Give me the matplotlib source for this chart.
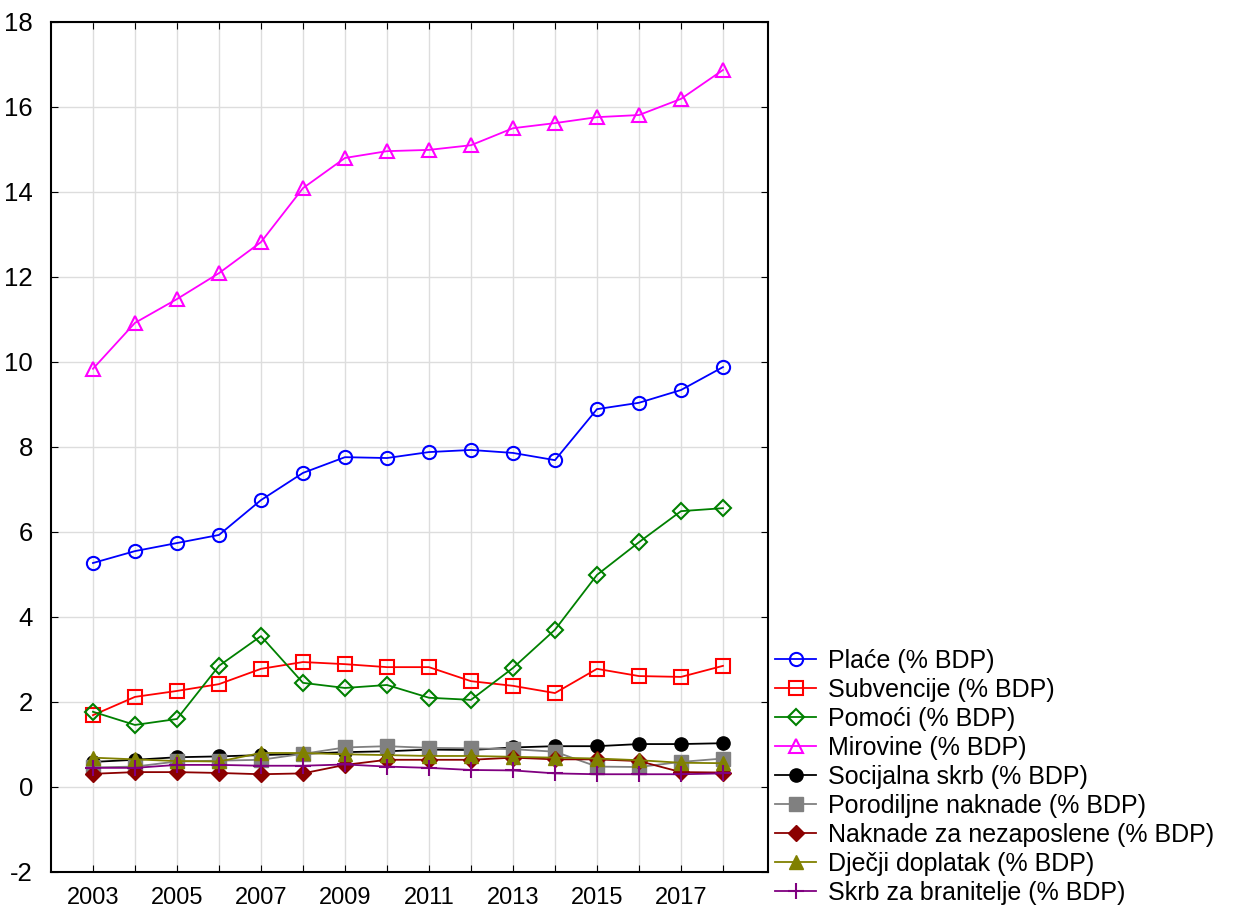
import matplotlib
matplotlib.use('Agg')
import matplotlib.pyplot as plt

years = list(range(2003, 2019))

place = [5.27, 5.55, 5.74, 5.93, 6.75, 7.39, 7.76, 7.74, 7.88, 7.93, 7.86, 7.69, 8.89, 9.04, 9.34, 9.88]
subvencije = [1.69, 2.12, 2.26, 2.42, 2.78, 2.94, 2.89, 2.82, 2.82, 2.49, 2.38, 2.21, 2.78, 2.61, 2.59, 2.85]
pomoci = [1.77, 1.46, 1.60, 2.85, 3.55, 2.45, 2.33, 2.40, 2.10, 2.05, 2.80, 3.70, 4.99, 5.76, 6.49, 6.56]
mirovine = [9.84, 10.92, 11.48, 12.09, 12.82, 14.09, 14.80, 14.96, 14.99, 15.10, 15.50, 15.62, 15.76, 15.81, 16.19, 16.87]
socijalna = [0.59, 0.64, 0.70, 0.72, 0.75, 0.78, 0.82, 0.84, 0.88, 0.87, 0.93, 0.96, 0.96, 1.01, 1.01, 1.03]
porodiljne = [0.46, 0.48, 0.60, 0.62, 0.64, 0.78, 0.93, 0.96, 0.92, 0.91, 0.89, 0.83, 0.48, 0.47, 0.59, 0.67]
nezaposlene = [0.31, 0.35, 0.35, 0.33, 0.30, 0.32, 0.52, 0.64, 0.64, 0.64, 0.69, 0.65, 0.65, 0.61, 0.35, 0.34]
djecji = [0.69, 0.65, 0.61, 0.60, 0.80, 0.80, 0.77, 0.75, 0.73, 0.73, 0.71, 0.69, 0.67, 0.63, 0.57, 0.56]
branitelji = [0.45, 0.45, 0.52, 0.52, 0.50, 0.50, 0.53, 0.48, 0.45, 0.40, 0.39, 0.32, 0.30, 0.30, 0.30, 0.32]

series = [
    ('Plaće (% BDP)', place, 'blue', 'o', 'none'),
    ('Subvencije (% BDP)', subvencije, 'red', 's', 'none'),
    ('Pomoći (% BDP)', pomoci, 'green', 'D', 'none'),
    ('Mirovine (% BDP)', mirovine, 'magenta', '^', 'none'),
    ('Socijalna skrb (% BDP)', socijalna, 'black', 'o', 'black'),
    ('Porodiljne naknade (% BDP)', porodiljne, 'gray', 's', 'gray'),
    ('Naknade za nezaposlene (% BDP)', nezaposlene, 'darkred', 'D', 'darkred'),
    ('Dječji doplatak (% BDP)', djecji, 'olive', '^', 'olive'),
    ('Skrb za branitelje (% BDP)', branitelji, 'purple', '+', 'purple'),
]

plt.rcParams['font.family'] = ['Liberation Sans', 'DejaVu Sans']
plt.rcParams['axes.unicode_minus'] = False

sizes = {'o': 9.5, 's': 10, 'D': 8.5, '^': 9.5, '+': 11}

fig = plt.figure(figsize=(12.34, 9.15), dpi=100)
ax = fig.add_axes([0.0413, 0.047, 0.581, 0.929])

for label, values, color, marker, face in series:
    ax.plot(years, values, color=color, marker=marker, markerfacecolor=face,
            markeredgecolor=color, markersize=sizes[marker], linewidth=1.3,
            markeredgewidth=1.5 if face == 'none' or marker == '+' else 1.0,
            label=label)

ax.set_xlim(2002, 2019.07)
ax.set_ylim(-2, 18)
ax.set_xticks(years)
ax.set_xticklabels([str(y) if y % 2 == 1 else '' for y in years])
ax.set_yticks(range(-2, 19, 2))
ax.tick_params(axis='y', labelsize=18.5, direction='in', right=True, pad=13, length=5)
ax.tick_params(axis='x', labelsize=17, direction='in', top=True, pad=11, length=5)
ax.grid(True, color='#dddddd', linewidth=1)
ax.set_axisbelow(True)
for sp in ax.spines.values():
    sp.set_linewidth(1.5)

fig.legend(loc='lower left', bbox_to_anchor=(0.62, 0.0), frameon=False,
           fontsize=18, handlelength=1.65, handletextpad=0.45, labelspacing=0.2,
           borderaxespad=0.2, borderpad=0.2)

fig.savefig('out.png', dpi=100)
